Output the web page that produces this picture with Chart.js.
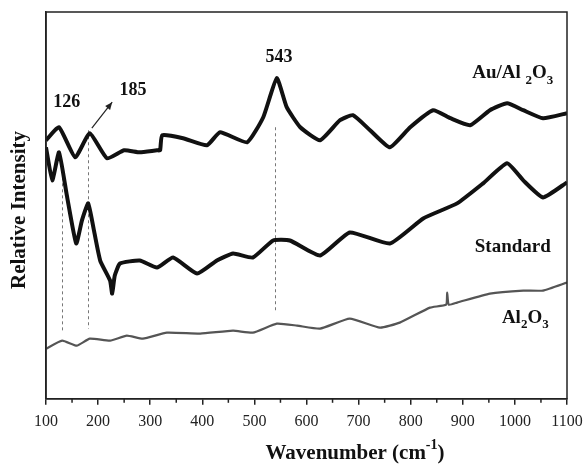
<!DOCTYPE html>
<html><head><meta charset="utf-8">
<script src="https://cdn.jsdelivr.net/npm/chart.js@4/dist/chart.umd.min.js"></script>
<style>html,body{margin:0;padding:0;background:#fff;}#wrap{width:585px;height:464px;}</style>
</head><body><div id="wrap"><canvas id="c" width="585" height="464"></canvas></div>
<script>
// Wavenumber ticks
const xTicks = [100,200,300,400,500,600,700,800,900,1000,1100];
// Au/Al2O3 spectrum (cm-1, relative intensity)
const auX = [100,125,156,184,217,250,280,313,319,323,363,409,434,486,517,543,562,588,626,664,689,722,760,799,843,876,914,952,985,1016,1054,1100];
const auY = [258,271,241,265,240,248,246,248,248,263,260,253,266,256,281,320,291,271,258,278,283,268,251,271,288,280,273,288,295,288,280,285];
// Standard spectrum
const stdX = [100,112,125,140,158,169,181,192,204,223,227,232,242,280,313,344,390,428,459,497,536,568,626,683,760,824,889,939,985,1016,1054,1100];
const stdY = [251,218,246,203,155,178,195,168,138,118,105,123,135,138,131,141,125,138,145,141,158,158,143,166,155,180,195,215,235,218,201,216];
// Al2O3 spectrum
const alX = [100,131,159,184,223,255,286,332,396,459,497,543,582,626,683,741,779,837,868,870,873,889,952,1016,1054,1100];
const alY = [50,58,53,60,58,63,60,66,65,68,66,75,73,70,80,71,76,91,94,106,94,96,105,108,108,116];
// Peak markers: position, top, bottom of dashed guide
const peakX = [131,181,540];
const peakTop = [221,268,271];
const peakBottom = [66,70,86];

const pts = (xs, ys) => xs.map((x, i) => ({x, y: ys[i]}));
const SERIF = '"Liberation Serif", "Times New Roman", serif';

function drawChem(ctx, parts, x, y, size) {
  let cx = x;
  parts.forEach(([t, sub]) => {
    ctx.font = 'bold ' + (sub ? Math.round(size*0.7) : size) + 'px ' + SERIF;
    ctx.fillText(t, cx, y + (sub ? size*0.3 : 0));
    cx += ctx.measureText(t).width;
  });
}

const deco = {
  id: 'deco',
  beforeDatasetsDraw(chart) {
    const {ctx, scales: {x, y}} = chart;
    ctx.save();
    ctx.strokeStyle = '#777';
    ctx.lineWidth = 1;
    ctx.setLineDash([3, 3]);
    peakX.forEach((p, i) => {
      const px = Math.round(x.getPixelForValue(p)) + 0.5;
      ctx.beginPath();
      ctx.moveTo(px, y.getPixelForValue(peakTop[i]));
      ctx.lineTo(px, y.getPixelForValue(peakBottom[i]));
      ctx.stroke();
    });
    ctx.restore();
  },
  afterDraw(chart) {
    const {ctx, chartArea: a, scales: {x, y}} = chart;
    ctx.save();
    ctx.strokeStyle = '#222';
    ctx.lineWidth = 1.5;
    ctx.strokeRect(a.left, a.top, a.right - a.left, a.bottom - a.top);
    for (let v = 150; v < 1100; v += 100) {
      const px = x.getPixelForValue(v);
      ctx.beginPath(); ctx.moveTo(px, a.bottom); ctx.lineTo(px, a.bottom + 4); ctx.stroke();
    }
    ctx.fillStyle = '#111';
    ctx.textBaseline = 'alphabetic';
    ctx.font = 'bold 18px ' + SERIF;
    ctx.textAlign = 'center';
    ctx.fillText('126', x.getPixelForValue(140), y.getPixelForValue(291));
    ctx.fillText('185', x.getPixelForValue(267), y.getPixelForValue(303));
    ctx.fillText('543', x.getPixelForValue(547), y.getPixelForValue(336));
    ctx.textAlign = 'left';
    ctx.font = 'bold 19px ' + SERIF;
    ctx.fillText('Standard', x.getPixelForValue(923), y.getPixelForValue(146));
    drawChem(ctx, [['Au/Al ', false], ['2', true], ['O', false], ['3', true]], x.getPixelForValue(918), y.getPixelForValue(320), 19);
    drawChem(ctx, [['Al', false], ['2', true], ['O', false], ['3', true]], x.getPixelForValue(975), y.getPixelForValue(76), 19);
    // arrow
    const x0 = x.getPixelForValue(188), y0 = y.getPixelForValue(270);
    const x1 = x.getPixelForValue(227), y1 = y.getPixelForValue(296);
    ctx.strokeStyle = '#222'; ctx.lineWidth = 1.2;
    ctx.beginPath(); ctx.moveTo(x0, y0); ctx.lineTo(x1, y1); ctx.stroke();
    const ang = Math.atan2(y1 - y0, x1 - x0);
    ctx.beginPath();
    ctx.moveTo(x1, y1);
    ctx.lineTo(x1 - 8*Math.cos(ang - 0.4), y1 - 8*Math.sin(ang - 0.4));
    ctx.lineTo(x1 - 8*Math.cos(ang + 0.4), y1 - 8*Math.sin(ang + 0.4));
    ctx.closePath(); ctx.fillStyle = '#222'; ctx.fill();
    // axis titles
    ctx.fillStyle = '#111';
    ctx.font = 'bold 21px ' + SERIF;
    const main = 'Wavenumber (cm';
    const w1 = ctx.measureText(main).width;
    ctx.font = 'bold 14px ' + SERIF;
    const wsup = ctx.measureText('-1').width;
    ctx.font = 'bold 21px ' + SERIF;
    const wp = ctx.measureText(')').width;
    const total = w1 + wsup + wp;
    const sx = 355 - total / 2;
    ctx.textAlign = 'left';
    ctx.fillText(main, sx, 459);
    ctx.font = 'bold 14px ' + SERIF;
    ctx.fillText('-1', sx + w1, 449);
    ctx.font = 'bold 21px ' + SERIF;
    ctx.fillText(')', sx + w1 + wsup, 459);
    ctx.save();
    ctx.translate(25, 210);
    ctx.rotate(-Math.PI / 2);
    ctx.textAlign = 'center';
    ctx.font = 'bold 21px ' + SERIF;
    ctx.fillText('Relative Intensity', 0, 0);
    ctx.restore();
    ctx.restore();
  }
};

new Chart(document.getElementById('c'), {
  type: 'line',
  data: {
    datasets: [
      {label: 'Au/Al2O3', data: pts(auX, auY), borderColor: '#111', borderWidth: 4, pointRadius: 0, tension: 0.15},
      {label: 'Standard', data: pts(stdX, stdY), borderColor: '#111', borderWidth: 4, pointRadius: 0, tension: 0.15},
      {label: 'Al2O3', data: pts(alX, alY), borderColor: '#555', borderWidth: 2.2, pointRadius: 0, tension: 0.15}
    ]
  },
  options: {
    responsive: false,
    animation: false,
    devicePixelRatio: 1,
    layout: {padding: {left: 46, top: 12, right: 18, bottom: 26}},
    plugins: {legend: {display: false}, tooltip: {enabled: false}},
    scales: {
      x: {
        type: 'linear', min: 100, max: 1100,
        afterBuildTicks: (s) => { s.ticks = xTicks.map(v => ({value: v})); },
        afterFit: (s) => { s.paddingLeft = 0; s.paddingRight = 0; },
        grid: {display: true, drawOnChartArea: false, tickLength: 6, color: '#222', lineWidth: 1.5},
        border: {display: true, color: '#222', width: 1.5},
        ticks: {color: '#222', padding: 7, maxRotation: 0, font: {family: SERIF, size: 16}, callback: (v) => String(v)}
      },
      y: {
        min: 0, max: 386,
        grid: {display: false, drawTicks: false},
        border: {display: true, color: '#222', width: 1.5},
        ticks: {display: false}
      }
    }
  },
  plugins: [deco]
});
</script>
</body></html>
